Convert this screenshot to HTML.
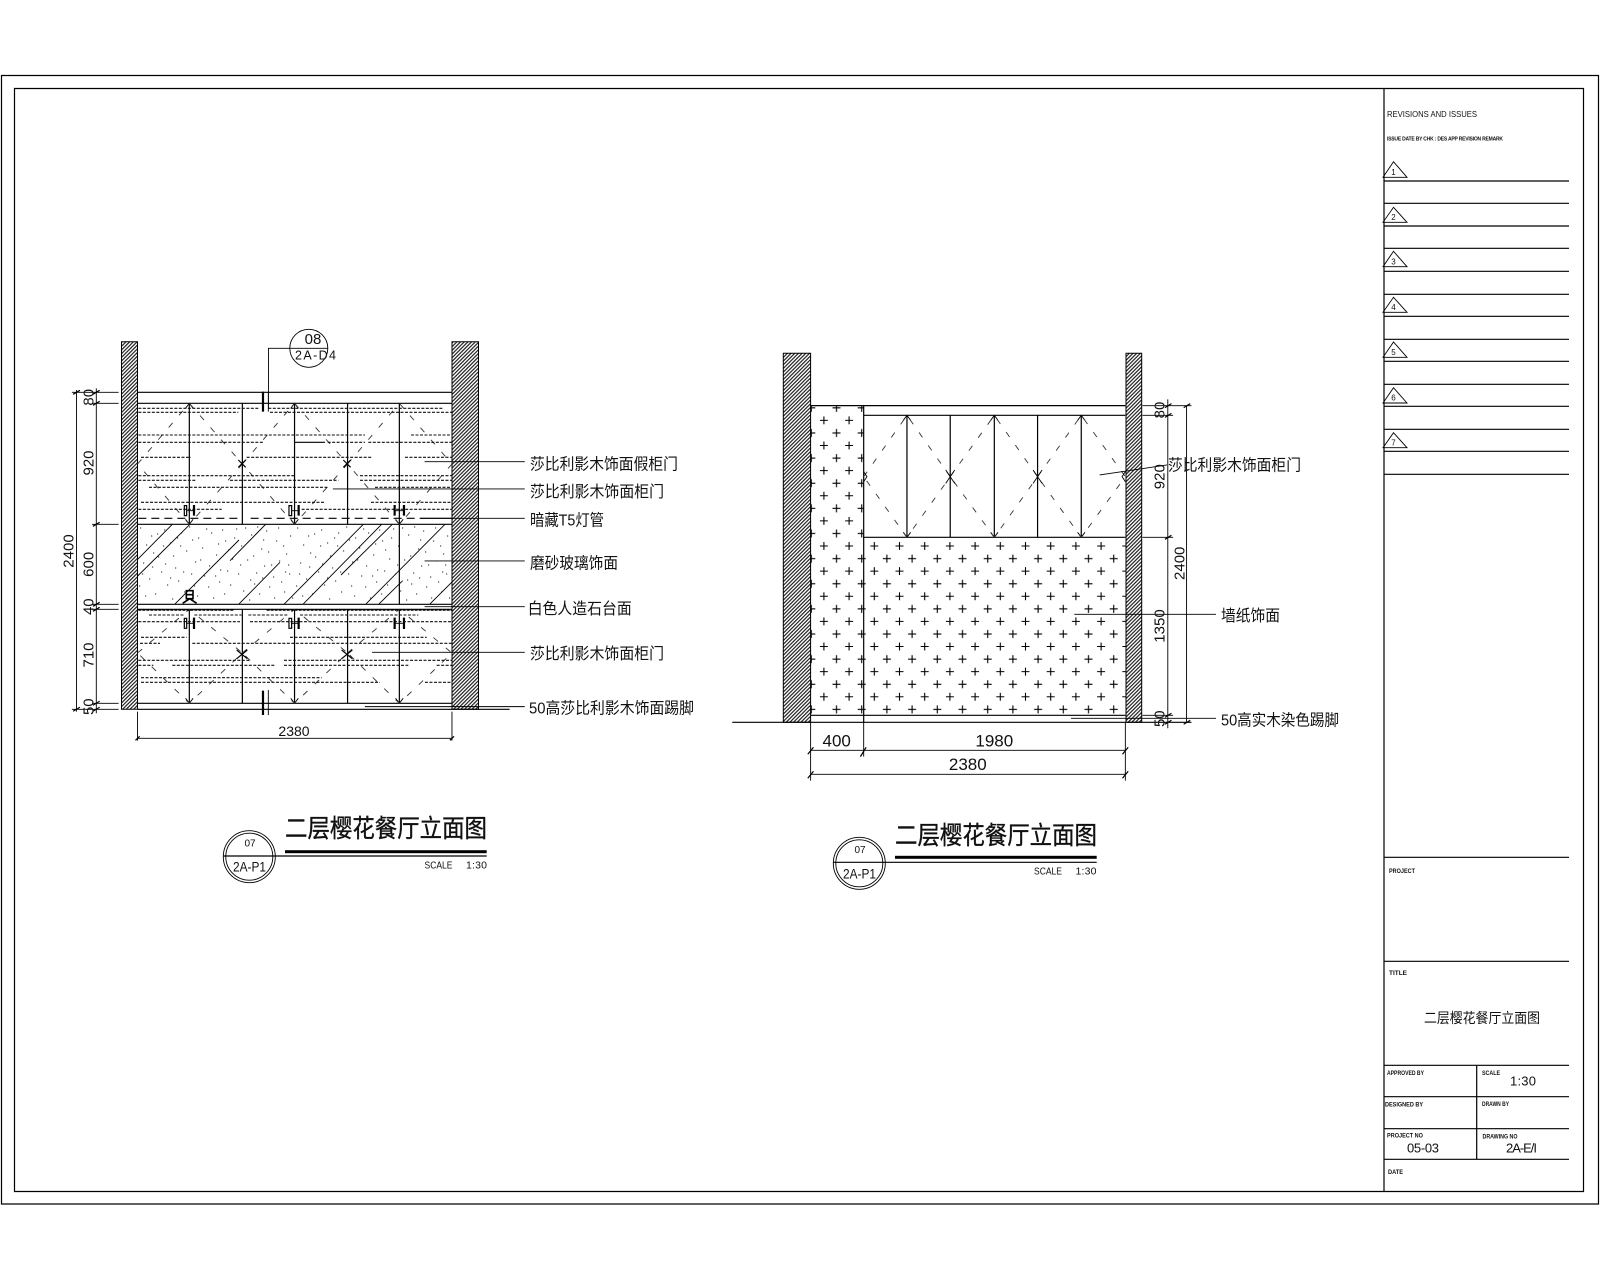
<!DOCTYPE html>
<html lang="zh">
<head>
<meta charset="utf-8">
<title>二层樱花餐厅立面图</title>
<style>
html,body{margin:0;padding:0;background:#fff;width:1600px;height:1280px;overflow:hidden}
svg{display:block}
line,path,rect,circle,ellipse,polyline{vector-effect:non-scaling-stroke}
.l{stroke:#000;stroke-width:1.2;fill:none}
.t{stroke:#000;stroke-width:.9;fill:none}
.b{stroke:#000;stroke-width:2.2;fill:none}
.w{stroke:#000;stroke-width:1}
.d{stroke:#111;stroke-width:1.1;fill:none;stroke-dasharray:3 1.5}
.k{stroke:#333;stroke-width:.9;fill:none;stroke-dasharray:6 10}
.dash{stroke:#000;stroke-width:1.2;fill:none;stroke-dasharray:8 5}
text{font-family:"Liberation Sans","Noto Sans CJK SC",sans-serif;fill:#111}
.c{font-size:16px;dominant-baseline:central}
.ti{font-size:25px;dominant-baseline:central;stroke:#111;stroke-width:.35}
.n{font-size:15px;text-anchor:middle;dominant-baseline:central}
.s{font-size:6.5px;dominant-baseline:central;font-weight:bold}
.m{font-size:13px;dominant-baseline:central}
</style>
</head>
<body>
<svg width="1600" height="1280" viewBox="0 0 1600 1280" xmlns="http://www.w3.org/2000/svg">
<defs>
<pattern id="h" width="2.6" height="2.6" patternUnits="userSpaceOnUse" patternTransform="rotate(-45)">
<rect width="2.6" height="2.6" fill="#fff"/><rect width="2.6" height="1.2" fill="#222"/>
</pattern>
<pattern id="p" width="25.2" height="25.13" patternUnits="userSpaceOnUse" patternTransform="translate(874.3 546)">
<path d="M-4 0H4M0-4V4M21.2 0H29.2M25.2-4V4M-4 25.13H4M0 21.13V29.13M21.2 25.13H29.2M25.2 21.13V29.13M8.6 12.57H16.6M12.6 8.57V16.57" stroke="#000" stroke-width="1.1" fill="none"/>
</pattern>
<pattern id="st" width="157" height="80" patternUnits="userSpaceOnUse" patternTransform="translate(137 524)">
<path stroke="#222" stroke-width="1.1" fill="none" d="M3 4h1.2M9 21h1.2M14 12h1.2M21 33h1.2M27 6h1.2M33 19h1.2M38 44h1.2M44 9h1.2M49 27h1.2M52 3h1.2M58 38h1.2M61 14h1.2M67 52h1.2M74 9h1.2M79 31h1.2M83 46h1.2M88 17h1.2M93 61h1.2M99 5h1.2M104 22h1.2M110 36h1.2M114 11h1.2M119 49h1.2M124 25h1.2M129 7h1.2M134 41h1.2M139 17h1.2M144 58h1.2M149 30h1.2M153 12h1.2M6 39h1.2M12 55h1.2M18 70h1.2M24 48h1.2M30 61h1.2M35 75h1.2M41 57h1.2M47 68h1.2M54 50h1.2M60 72h1.2M65 24h1.2M71 63h1.2M76 74h1.2M82 58h1.2M87 70h1.2M95 35h1.2M101 50h1.2M106 67h1.2M112 76h1.2M117 60h1.2M122 70h1.2M127 42h1.2M132 63h1.2M137 74h1.2M142 37h1.2M147 68h1.2M152 50h1.2M155 74h1.2M2 62h1.2M8 72h1.2M16 29h1.2M26 22h1.2M36 32h1.2M43 22h1.2M55 16h1.2M63 36h1.2M69 5h1.2M72 42h1.2M85 6h1.2M91 26h1.2M97 14h1.2M108 4h1.2M116 32h1.2M126 16h1.2M131 28h1.2M141 4h1.2M146 22h1.2M151 41h1.2M5 50h1.2M15 43h1.2M28 40h1.2M33 54h1.2M46 48h1.2M57 62h1.2M78 52h1.2M90 47h1.2M103 41h1.2M113 56h1.2M125 54h1.2M136 53h1.2M148 48h1.2M20 10h1.2M40 14h1.2M81 20h1.2M120 3h1.2"/>
</pattern>
</defs>

<rect x="1.5" y="75.5" width="1597" height="1128.5" class="l"/>
<rect x="14.5" y="88.5" width="1569" height="1103" class="l"/>
<line x1="1384" y1="88.5" x2="1384" y2="1191.5" class="l"/>

<!-- revision block -->
<text x="1387" y="114" class="s" textLength="90" lengthAdjust="spacingAndGlyphs" style="font-size:8.5px;font-weight:normal">REVISIONS AND ISSUES</text>
<text x="1387" y="139.5" class="s" textLength="116" lengthAdjust="spacing" style="font-size:5px">ISSUE DATE BY CHK : DES APP REVISION REMARK</text>
<path class="l" d="M1384 181H1569M1384 203.3H1569M1384 226H1569M1384 248.3H1569M1384 271.3H1569M1384 294.3H1569M1384 316.3H1569M1384 339.3H1569M1384 361.3H1569M1384 384.3H1569M1384 406.3H1569M1384 429.3H1569M1384 451.3H1569M1384 474.3H1569"/>
<path class="t" d="M1383 177.3H1407L1393.5 161.7ZM1383 222.3H1407L1393.5 207.3ZM1383 266.7H1407L1393.5 251.3ZM1383 312.3H1407L1393.5 297.3ZM1383 357.3H1407L1393.5 342ZM1383 403H1407L1393.5 387.7ZM1383 447.7H1407L1393.5 432.7Z"/>
<g style="font-size:8px;text-anchor:middle">
<text x="1393.5" y="175">1</text><text x="1393.5" y="220">2</text><text x="1393.5" y="264.5">3</text><text x="1393.5" y="310">4</text><text x="1393.5" y="355">5</text><text x="1393.5" y="400.5">6</text><text x="1393.5" y="445.5">7</text>
</g>

<!-- title block -->
<path class="l" d="M1384 857.3H1569M1384 961.3H1569M1384 1065.3H1569M1384 1096.7H1569M1384 1128.7H1569M1384 1159.3H1569M1476.7 1065.3V1159.3"/>
<text x="1389" y="871.5" class="s" textLength="26" lengthAdjust="spacingAndGlyphs">PROJECT</text>
<text x="1389" y="973.5" class="s" textLength="18" lengthAdjust="spacingAndGlyphs">TITLE</text>
<text x="1424" y="1018" class="c" textLength="116" lengthAdjust="spacingAndGlyphs" style="font-size:14px">二层樱花餐厅立面图</text>
<text x="1387" y="1073.5" class="s" textLength="37" lengthAdjust="spacingAndGlyphs">APPROVED BY</text>
<text x="1482" y="1073.5" class="s" textLength="18" lengthAdjust="spacingAndGlyphs">SCALE</text>
<text x="1510" y="1081" class="m" textLength="26" lengthAdjust="spacing">1:30</text>
<text x="1385" y="1105" class="s" textLength="38" lengthAdjust="spacingAndGlyphs">DESIGNED BY</text>
<text x="1482" y="1104.5" class="s" textLength="27" lengthAdjust="spacingAndGlyphs">DRAWN BY</text>
<text x="1387" y="1136" class="s" textLength="36" lengthAdjust="spacingAndGlyphs">PROJECT NO</text>
<text x="1407" y="1148" class="m" textLength="32" lengthAdjust="spacing">05-03</text>
<text x="1482.5" y="1137" class="s" textLength="35" lengthAdjust="spacingAndGlyphs">DRAWING NO</text>
<text x="1506" y="1148" class="m" textLength="31" lengthAdjust="spacing">2A-E/I</text>
<text x="1388" y="1172.7" class="s" textLength="15" lengthAdjust="spacingAndGlyphs">DATE</text>

<!-- LEFT ELEVATION -->
<rect x="121.5" y="341.7" width="16" height="367.6" style="fill:url(#h)" class="w"/>
<rect x="452" y="341.7" width="26.5" height="367.6" style="fill:url(#h)" class="w"/>
<rect x="137.5" y="524.3" width="314.5" height="80" fill="url(#st)"/>
<g transform="translate(50 320) scale(.4209 .3333)">
<path class="l" d="M208 217H955M208 250H955M208 613H955M208 853H955M208 868H955M208 1150H955M208 1168H1092"/>
<path class="l" d="M457 250V613M707 250V613M457 868V1150M707 868V1150M331 250V613M581 250V613M830 250V853M331 868V1150M581 868V1150M830 868V1150"/>
<path class="t" d="M322 265L331 250L340 265M572 265L581 250L590 265M322 598L331 613L340 598M572 598L581 613L590 598M821 598L830 613L839 598M322 1135L331 1150L340 1135M572 1135L581 1150L590 1135M821 1135L830 1150L839 1135"/>
<path class="k" d="M208 432L331 250L457 432L331 613ZM457 432L581 250L707 432L581 613ZM707 432L830 250L955 432L830 613ZM208 999L331 868L457 999L331 1150ZM457 999L581 868L707 999L581 1150ZM707 999L830 868L955 999L830 1150Z"/>
<path class="l" d="M268 365H252" style="display:none"/>
<path class="t" d="M519 265V85H660"/>
<path class="t" d="M52 217H163M100 250H163M100 613H163M100 853H163M100 868H163M100 1150H163M52 1168H163M63 210V1175M110 205V1180M208 1175V1262M955 1175V1262M208 1255H955"/>
<path class="l" d="M55 223L71 211M102 223L118 211M102 256L118 244M102 619L118 607M102 859L118 847M102 874L118 862M102 1156L118 1144M102 1174L118 1162M55 1174L71 1162M203 1261L213 1249M950 1261L960 1249"/>
<path class="t" d="M890 425H1128M672 507H1128M880 595H1128M890 723H1128M890 860H1128M748 1160H1128M765 997H1128"/>
</g>
<!-- upper cabinet detail (crop scale) -->
<g transform="translate(135 400) scale(.3333)">
<path class="d" d="M10 25H370M400 25H925M10 37H310M405 37H950M10 105H690M828 105H950M10 127H385M578 127H690M700 127H950M18 172H168M335 172H710M810 172H950M10 227H478M675 227H950M10 241H185M285 241H610M675 241H950M42 262H580M720 262H950M18 307H570M708 307H950M10 328H260M500 328H950"/>
<path class="l" d="M478 127H570"/>
<path class="dash" d="M10 355H323M347 355H855"/>
<path class="l" d="M855 355H950M310 180L332 202M310 202L332 180M625 180L647 202M625 202L647 180"/>
<path class="l" d="M148 317H155V347H148ZM477 317" />
<path class="t" d="M155 332H177"/>
<path class="b" d="M177 315V347M491 315V347M779 315V347M807 315V347"/>
<path class="l" d="M462 317H470V347H462Z"/>
<path class="t" d="M470 332H491M779 332H807"/>
<path class="b" d="M384 -25V35"/>
<path class="t" d="M400 -25V35"/>
</g>
<!-- glass detail -->
<g transform="translate(135 520) scale(.3333)">
<path class="t" d="M8 118L112 13M8 168L165 13M120 252L312 60M285 122L392 13M312 252L435 127M448 252L685 13M505 252L740 13M618 165L772 13M693 252L930 13M732 252L803 182M885 252L952 185"/>
<path style="stroke:#000;stroke-width:1.6;fill:none" d="M154 212H174V236H154ZM154 224H174M164 236L143 250M164 236L185 250"/>
</g>
<!-- lower cabinet detail -->
<g transform="translate(135 600) scale(.3333)">
<path style="stroke:#000;stroke-width:1.5;fill:none;stroke-dasharray:3 1" d="M10 30H298M395 30H950"/>
<path class="d" d="M42 45H150M178 45H320M340 45H460M495 45H850M10 65H315M345 65H950M18 112H155M465 112H875M15 130H75M172 130H950M10 181H348M447 181H950M10 196H55M112 196H418M447 196H820M905 196H950M18 233H560M18 247H735M870 247H950"/>
<path class="l" d="M305 150L337 176M305 176L337 150M620 150L652 176M620 176L652 150"/>
<path class="l" d="M148 55H155V85H148ZM462 55H470V85H462Z"/>
<path class="t" d="M155 70H177M470 70H491M779 70H807"/>
<path class="b" d="M177 53V87M491 53V87M779 53V87M807 53V87"/>
<path class="b" d="M384 272V345"/>
<path class="t" d="M400 270V345"/>
</g>
<ellipse cx="308.8" cy="348.3" rx="19" ry="19" class="t"/>
<text x="313" y="339.5" class="n" style="font-size:15px">08</text>
<text x="315.5" y="355.5" class="n" style="font-size:12.5px" textLength="41" lengthAdjust="spacing">2A-D4</text>
<g>
<text class="n" transform="rotate(-90 89 397.3)" x="89" y="397.3">80</text>
<text class="n" transform="rotate(-90 89 463)" x="89" y="463">920</text>
<text class="n" transform="rotate(-90 89 564.3)" x="89" y="564.3">600</text>
<text class="n" transform="rotate(-90 89 606.7)" x="89" y="606.7">40</text>
<text class="n" transform="rotate(-90 89 655)" x="89" y="655">710</text>
<text class="n" transform="rotate(-90 89 706.7)" x="89" y="706.7">50</text>
<text class="n" transform="rotate(-90 69 551)" x="69" y="551">2400</text>
<text class="n" x="294" y="731" style="font-size:14px">2380</text>
</g>
<text x="530" y="465" class="c" textLength="148" lengthAdjust="spacingAndGlyphs">莎比利影木饰面假柜门</text>
<text x="530" y="492.5" class="c" textLength="134" lengthAdjust="spacingAndGlyphs">莎比利影木饰面柜门</text>
<text x="530" y="521" class="c" textLength="74" lengthAdjust="spacingAndGlyphs">暗藏T5灯管</text>
<text x="530" y="564" class="c" textLength="88" lengthAdjust="spacingAndGlyphs">磨砂玻璃饰面</text>
<text x="527.7" y="609.5" class="c" textLength="104" lengthAdjust="spacingAndGlyphs">白色人造石台面</text>
<text x="530" y="654.5" class="c" textLength="134" lengthAdjust="spacingAndGlyphs">莎比利影木饰面柜门</text>
<text x="529" y="709" class="c" textLength="165" lengthAdjust="spacingAndGlyphs">50高莎比利影木饰面踢脚</text>

<!-- left caption -->
<circle cx="249.3" cy="856.7" r="26" class="t"/>
<circle cx="249.3" cy="856.7" r="23.5" class="t"/>
<path class="l" d="M223 856H486.7"/>
<rect x="285" y="850.2" width="201.7" height="3" fill="#000"/>
<text x="285" y="829" class="ti" textLength="202" lengthAdjust="spacingAndGlyphs">二层樱花餐厅立面图</text>
<text x="424.5" y="865.5" class="c" style="font-size:10.5px" textLength="28" lengthAdjust="spacingAndGlyphs">SCALE</text>
<text x="466" y="865.5" class="c" style="font-size:10.5px" textLength="21" lengthAdjust="spacing">1:30</text>
<text x="250" y="844" class="n" style="font-size:10px">07</text>
<text x="249.5" y="866.7" class="n" style="font-size:14px" textLength="33" lengthAdjust="spacingAndGlyphs">2A-P1</text>

<!-- RIGHT ELEVATION -->
<rect x="783.3" y="353.3" width="27.3" height="369" style="fill:url(#h)" class="w"/>
<rect x="1126" y="353.3" width="15.7" height="369" style="fill:url(#h)" class="w"/>
<rect x="810.6" y="405.7" width="53.1" height="309.6" fill="url(#p)"/>
<rect x="863.7" y="537.3" width="262.3" height="178" fill="url(#p)"/>
<g transform="translate(720 340) scale(.4082 .3333)">
<path class="l" d="M222 197H993M352 226H993M352 592H993M222 1126H993M30 1147H1155"/>
<path class="l" d="M352 197V1147M458 226V592M564 226V592M672 226V592M778 226V592M885 226V592"/>
<path class="t" d="M449 241L458 226L467 241M663 241L672 226L681 241M876 241L885 226L894 241M449 577L458 592L467 577M663 577L672 592L681 577M876 577L885 592L894 577"/>
<path class="k" d="M352 410L458 226L564 410L458 592ZM564 410L672 226L778 410L672 592ZM778 410L885 226L993 410L885 592Z"/>
<path class="t" d="M553 390L575 430M553 430L575 390M767 390L789 430M767 430L789 390M352 395L360 410L352 425M993 395L985 410L993 425"/>
<path class="t" d="M1035 197H1155M1035 226H1110M1035 592H1110M1035 1126H1110M1097 178V1165M1143 197V1147"/>
<path class="l" d="M1090 203L1106 191M1090 232L1106 220M1090 598L1106 586M1090 1132L1106 1120M1090 1153L1106 1141M1136 203L1152 191M1136 1153L1152 1141"/>
<path class="t" d="M222 1147V1322M352 1147V1250M993 1147V1322M222 1231H993M222 1303H993"/>
<path class="l" d="M215 1243L229 1222M344 1250L358 1222M986 1243L1000 1222M215 1315L229 1294M986 1315L1000 1294"/>
<path class="t" d="M930 405L1095 375M868 823H1215M860 1135H1215"/>
</g>
<g>
<text class="n" transform="rotate(-90 1160 410)" x="1160" y="410">80</text>
<text class="n" transform="rotate(-90 1160 476.7)" x="1160" y="476.7">920</text>
<text class="n" transform="rotate(-90 1160 626)" x="1160" y="626">1350</text>
<text class="n" transform="rotate(-90 1160 718.7)" x="1160" y="718.7">50</text>
<text class="n" transform="rotate(-90 1180 563.3)" x="1180" y="563.3">2400</text>
<text class="n" x="836.7" y="741" style="font-size:17px">400</text>
<text class="n" x="994.3" y="741" style="font-size:17px">1980</text>
<text class="n" x="967.8" y="764.3" style="font-size:17px">2380</text>
</g>
<text x="1168" y="466" class="c" textLength="133" lengthAdjust="spacingAndGlyphs">莎比利影木饰面柜门</text>
<text x="1221" y="616.7" class="c" textLength="59" lengthAdjust="spacingAndGlyphs">墙纸饰面</text>
<text x="1221" y="721" class="c" textLength="118" lengthAdjust="spacingAndGlyphs">50高实木染色踢脚</text>

<!-- right caption -->
<circle cx="859.3" cy="863.3" r="26" class="t"/>
<circle cx="859.3" cy="863.3" r="23.5" class="t"/>
<path class="l" d="M833 862.3H1096.7"/>
<rect x="895" y="855.8" width="201.7" height="3" fill="#000"/>
<text x="895" y="836" class="ti" textLength="202" lengthAdjust="spacingAndGlyphs">二层樱花餐厅立面图</text>
<text x="1034" y="871.5" class="c" style="font-size:10.5px" textLength="28" lengthAdjust="spacingAndGlyphs">SCALE</text>
<text x="1075.5" y="871.5" class="c" style="font-size:10.5px" textLength="21" lengthAdjust="spacing">1:30</text>
<text x="860" y="850.7" class="n" style="font-size:10px">07</text>
<text x="859.5" y="873.3" class="n" style="font-size:14px" textLength="33" lengthAdjust="spacingAndGlyphs">2A-P1</text>
</svg>
</body>
</html>
